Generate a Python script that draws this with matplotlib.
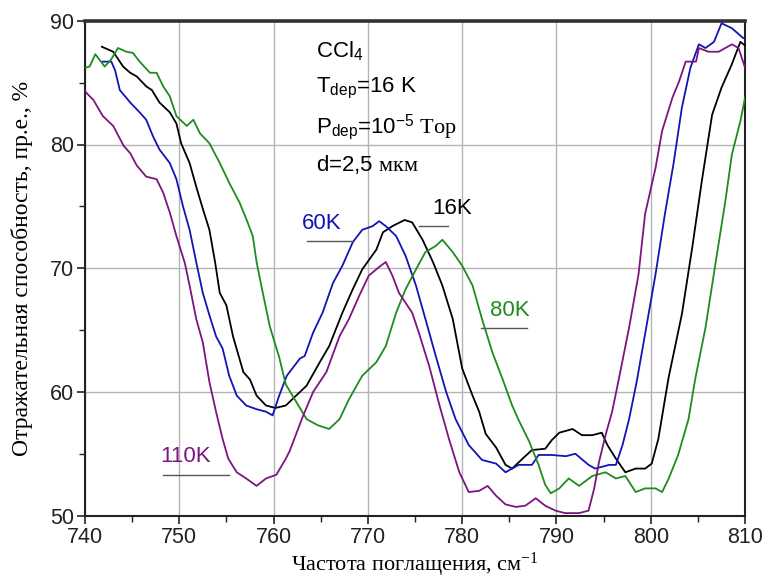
import matplotlib
matplotlib.use("Agg")
import matplotlib.pyplot as plt
from matplotlib.patches import Rectangle

plt.rcParams['font.family'] = ['Liberation Sans', 'DejaVu Sans']
plt.rcParams['mathtext.fontset'] = 'custom'
plt.rcParams['mathtext.rm'] = 'Liberation Serif'
plt.rcParams['mathtext.sf'] = 'Liberation Sans'
plt.rcParams['mathtext.it'] = 'Liberation Serif:italic'

# ---- data ----
x16 = [741.8, 743.0, 744.05, 744.8, 745.5, 746.5, 747.1, 747.9, 749.0, 749.7, 750.2, 751.1, 751.8,
       752.5, 753.2, 753.8, 754.3, 755.0, 755.7, 756.8, 757.5, 758.2, 759.2, 760.2, 761.3, 762.4,
       763.5, 764.9, 765.9, 767.3, 768.4, 769.4, 770.9, 771.6, 772.6, 773.9, 774.7, 775.8, 776.9,
       777.9, 779.0, 780.0, 781.1, 781.8, 782.5, 783.6, 784.6, 785.3, 786.4, 787.4, 788.8, 789.5,
       790.3, 791.7, 792.7, 793.8, 794.8, 795.4, 796.3, 797.3, 798.4, 799.4, 800.1, 800.8, 801.5,
       801.9, 803.3, 804.4, 805.4, 806.5, 807.5, 808.6, 809.5, 810.0]
y16 = [87.9, 87.5, 86.3, 85.8, 85.5, 84.7, 84.4, 83.4, 82.6, 81.7, 80.1, 78.5, 76.6,
       74.8, 73.1, 70.5, 68.0, 67.0, 64.5, 61.6, 61.0, 59.7, 58.9, 58.7, 58.9, 59.7,
       60.5, 62.4, 63.7, 66.4, 68.3, 69.9, 71.5, 72.9, 73.4, 73.9, 73.7, 72.3, 70.5,
       68.6, 65.9, 61.9, 59.7, 58.4, 56.6, 55.5, 54.1, 53.8, 54.6, 55.3, 55.4, 56.1,
       56.7, 57.0, 56.5, 56.5, 56.7, 55.7, 54.6, 53.5, 53.8, 53.8, 54.2, 56.2, 59.4,
       61.2, 66.3, 71.7, 77.0, 82.4, 84.6, 86.5, 88.3, 88.0]

x60 = [741.9, 742.8, 743.2, 743.7, 744.8, 745.8, 746.5, 747.2, 747.9, 749.0, 749.7, 750.4, 751.1,
       751.8, 752.5, 753.2, 753.9, 754.6, 755.3, 756.1, 757.1, 758.2, 759.2, 759.9, 760.6, 761.4,
       762.8, 763.3, 764.2, 765.2, 766.3, 767.3, 768.4, 769.4, 770.5, 771.2, 771.9, 773.0, 774.0,
       775.1, 776.1, 777.2, 778.3, 779.3, 780.7, 782.1, 783.6, 784.6, 786.0, 787.4, 788.1, 789.5,
       791.0, 792.0, 793.4, 794.1, 795.6, 796.3, 797.0, 797.7, 798.5, 799.4, 800.5, 801.5, 802.4,
       803.3, 804.2, 805.1, 805.8, 806.7, 807.5, 808.6, 809.8, 810.0]
y60 = [86.7, 86.7, 86.0, 84.4, 83.4, 82.6, 82.0, 80.7, 79.6, 78.5, 77.2, 75.0, 73.1,
       70.5, 68.0, 66.2, 64.5, 63.5, 61.3, 59.7, 58.9, 58.6, 58.4, 58.1, 59.7, 61.3,
       62.7, 62.9, 64.8, 66.4, 68.8, 70.2, 72.1, 73.1, 73.4, 73.8, 73.4, 72.6, 71.0,
       68.6, 65.9, 62.9, 60.0, 57.8, 55.7, 54.5, 54.2, 53.5, 54.1, 54.1, 54.9, 54.9,
       54.8, 55.0, 54.1, 53.8, 54.1, 54.1, 55.7, 57.8, 60.8, 64.7, 69.5, 74.4, 78.4,
       83.0, 86.2, 88.1, 87.8, 88.3, 89.8, 89.4, 88.6, 88.6]

x80 = [740.0, 740.5, 741.1, 742.1, 742.8, 743.5, 744.4, 745.1, 745.8, 746.9, 747.6, 748.3, 749.0,
       749.7, 750.8, 751.5, 752.2, 753.2, 754.3, 755.3, 756.4, 757.1, 757.8, 758.2, 758.7, 759.6,
       760.6, 761.3, 762.4, 763.5, 764.7, 765.9, 767.0, 768.0, 769.4, 770.9, 771.9, 773.0, 774.0,
       775.1, 776.1, 777.2, 777.9, 779.0, 780.0, 781.1, 782.1, 783.2, 784.3, 785.3, 786.0, 787.1,
       788.1, 788.8, 789.4, 790.3, 791.3, 792.4, 793.8, 795.2, 796.3, 797.3, 798.4, 799.4, 800.5,
       801.2, 801.9, 802.9, 804.0, 804.7, 805.8, 806.8, 807.9, 808.6, 809.5, 810.0]
y80 = [86.2, 86.3, 87.3, 86.3, 86.9, 87.8, 87.5, 87.4, 86.7, 85.8, 85.8, 84.7, 83.9,
       82.3, 81.5, 82.0, 80.9, 80.1, 78.5, 76.9, 75.3, 74.0, 72.6, 70.5, 68.6, 65.3,
       62.8, 60.6, 59.2, 57.8, 57.3, 57.0, 57.8, 59.4, 61.3, 62.4, 63.7, 66.4, 68.3,
       69.9, 71.3, 71.8, 72.3, 71.3, 70.2, 68.6, 65.9, 63.2, 61.0, 58.9, 57.7, 56.0,
       54.1, 52.5, 51.8, 52.2, 53.0, 52.4, 53.2, 53.5, 53.0, 53.2, 51.9, 52.2, 52.2,
       51.9, 53.0, 54.9, 57.8, 61.0, 65.2, 70.1, 75.4, 79.2, 81.9, 83.8]

x110 = [740.0, 740.9, 741.9, 743.0, 744.1, 744.8, 745.5, 746.5, 747.6, 748.3, 749.0, 749.7, 750.6,
        751.1, 751.8, 752.5, 753.2, 753.9, 754.6, 755.2, 756.1, 757.1, 758.2, 759.2, 760.3, 761.3,
        761.7, 763.1, 764.2, 765.6, 767.0, 768.0, 769.1, 770.1, 771.2, 771.9, 772.6, 773.3, 774.0,
        774.7, 775.4, 776.5, 777.6, 778.6, 779.7, 780.7, 781.8, 782.7, 783.6, 784.6, 785.7, 786.7,
        787.8, 788.8, 789.9, 790.9, 792.4, 793.4, 794.0, 794.5, 795.2, 795.9, 796.6, 797.7, 798.7,
        799.4, 800.5, 801.2, 802.3, 803.0, 803.7, 804.8, 805.1, 806.1, 807.2, 808.6, 809.3, 810.0]
y110 = [84.3, 83.6, 82.3, 81.5, 79.9, 79.3, 78.3, 77.4, 77.2, 76.1, 74.5, 72.6, 70.4,
        68.6, 65.9, 64.0, 60.8, 58.4, 56.2, 54.6, 53.5, 53.0, 52.4, 53.0, 53.3, 54.6,
        55.2, 58.0, 60.0, 61.6, 64.5, 65.9, 67.8, 69.4, 70.1, 70.5, 69.4, 68.0, 67.2,
        66.4, 64.8, 62.1, 58.9, 56.2, 53.5, 51.9, 52.0, 52.4, 51.6, 50.9, 50.7, 50.8,
        51.4, 50.8, 50.4, 50.2, 50.2, 50.4, 52.2, 54.3, 56.5, 58.4, 61.0, 65.2, 69.5,
        74.4, 78.1, 81.1, 83.8, 85.1, 86.7, 86.7, 87.8, 87.5, 87.5, 88.1, 87.8, 86.2]

labels = ['16K', '60K', '80K', '110K']
colors = ['#000000', '#1414b4', '#1e8c1e', '#7d1480']
xticks = [740, 750, 760, 770, 780, 790, 800, 810]
yticks = [50, 60, 70, 80, 90]

fig = plt.figure(figsize=(7.65, 5.78), dpi=100)
ax = fig.add_axes([0.111, 0.108, 0.863, 0.856])

series = [(x16, y16), (x60, y60), (x80, y80), (x110, y110)]
for (xs, ys), c in zip(series, colors):
    ax.plot(xs, ys, color=c, lw=1.3, zorder=3)

ax.set_xlim(740, 810)
ax.set_ylim(50, 90)
ax.set_xticks(xticks)
ax.set_yticks(yticks)
ax.set_xticks(range(745, 810, 10), minor=True)
ax.set_yticks(range(55, 90, 10), minor=True)
ax.tick_params(which='major', direction='out', length=6, width=1.2, labelsize=15.5,
               colors='#222222', pad=2)
ax.tick_params(which='minor', direction='out', length=4, width=1.0, colors='#222222')
ax.grid(True, which='major', color='#b4b4b4', lw=1.0, zorder=0)

for s in ['left', 'bottom', 'right']:
    ax.spines[s].set_linewidth(1.5)
    ax.spines[s].set_color('#222222')
ax.spines['top'].set_linewidth(2.6)
ax.spines['top'].set_color('#333333')

ax.set_xlabel('Частота поглащения, см$^{-1}$', fontfamily='Liberation Serif', fontsize=16, labelpad=2)
ax.set_ylabel('Отражательная способность, пр.е., %', fontfamily='Liberation Serif', fontsize=17, labelpad=12)

# white box behind the parameter block
ax.add_patch(Rectangle((0.335, 0.696), 0.234, 0.30, transform=ax.transAxes,
                       facecolor='white', edgecolor='none', zorder=1))
fs = 16
ax.text(0.35, 0.94, r'CCl$_\mathsf{4}$', transform=ax.transAxes, fontsize=fs, va='center', zorder=4)
ax.text(0.35, 0.865, r'T$_\mathsf{dep}$=16 K', transform=ax.transAxes, fontsize=fs, va='center', zorder=4)
ax.text(0.35, 0.785, r'P$_\mathsf{dep}$=10$^\mathsf{-5}$ $\mathrm{Тор}$', transform=ax.transAxes, fontsize=fs, va='center', zorder=4)
ax.text(0.35, 0.710, r'd=2,5 $\mathrm{мкм}$', transform=ax.transAxes, fontsize=fs, va='center', zorder=4)

# curve labels with leader lines
lab_pos = {'16K': (778.9, 74.0, 775.4, 778.5, 73.4),
           '60K': (765.1, 72.8, 763.5, 768.3, 72.2),
           '80K': (785.1, 65.7, 782.0, 786.9, 65.2),
           '110K': (750.7, 53.9, 748.3, 755.3, 53.3)}
for lab, c in zip(labels, colors):
    tx, ty, lx0, lx1, ly = lab_pos[lab]
    ax.text(tx, ty, lab, color=c, fontsize=16, ha='center', va='bottom', zorder=4)
    ax.plot([lx0, lx1], [ly, ly], color='#555555', lw=1.0, zorder=4)

fig.savefig('out.png', dpi=100)
